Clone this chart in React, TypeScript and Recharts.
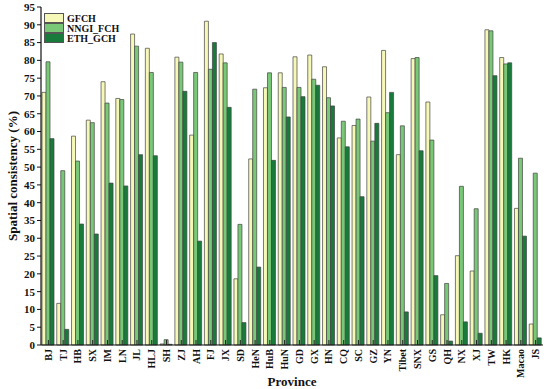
import React from 'react';
import { BarChart, Bar, XAxis, YAxis, Legend } from 'recharts';

const provinces = [
  'BJ', 'TJ', 'HB', 'SX', 'IM', 'LN', 'JL', 'HLJ', 'SH', 'ZJ', 'AH', 'FJ',
  'JX', 'SD', 'HeN', 'HuB', 'HuN', 'GD', 'GX', 'HN', 'CQ', 'SC', 'GZ', 'YN',
  'Tibet', 'SNX', 'GS', 'QH', 'NX', 'XJ', 'TW', 'HK', 'Macao', 'JS',
];

const gfch = [
  71, 11.7, 58.7, 63.2, 74, 69.3, 87.4, 83.4, 0.3, 80.9, 59, 91,
  81.8, 18.6, 52.3, 72.3, 76.5, 81, 81.5, 78.2, 58.2, 61.7, 69.7, 82.8,
  53.5, 80.5, 68.3, 8.5, 25.1, 20.8, 88.6, 80.8, 38.4, 5.9,
];

const nngiFch = [
  79.6, 49, 51.7, 62.5, 68, 69, 84, 76.6, 1.5, 79.5, 76.6, 77.5,
  79.3, 33.9, 71.9, 76.5, 72.4, 72.4, 74.7, 69.5, 62.9, 63.5, 57.3, 65.3,
  61.6, 80.8, 57.6, 17.3, 44.6, 38.3, 88.3, 79, 52.5, 48.3,
];

const ethGch = [
  58, 4.4, 34, 31.2, 45.5, 44.7, 53.5, 53.2, 0.2, 71.3, 29.2, 85,
  66.8, 6.3, 21.9, 51.9, 64.1, 69.8, 73, 67.2, 55.7, 41.7, 62.3, 71,
  9.3, 54.6, 19.5, 1.1, 6.5, 3.3, 75.7, 79.3, 30.6, 2,
];

const yTicks = [0, 5, 10, 15, 20, 25, 30, 35, 40, 45, 50, 55, 60, 65, 70, 75, 80, 85, 90, 95];

const series = [
  { key: 'GFCH', color: '#f6f8b8' },
  { key: 'NNGI_FCH', color: '#79c878' },
  { key: 'ETH_GCH', color: '#197b3b' },
];

const data = provinces.map((name, i) => ({
  name,
  GFCH: gfch[i],
  NNGI_FCH: nngiFch[i],
  ETH_GCH: ethGch[i],
}));

const FONT = '"Liberation Serif", "Times New Roman", serif';

// x labels are rotated, plus a small tick pointing up into the plot
const renderProvinceTick = (props: any) => {
  const { x, y, payload } = props;
  const ty = y + 4;
  return (
    <g key={`tick-${payload.value}`}>
      <line x1={x} x2={x} y1={y - 5} y2={y} stroke="#222" strokeWidth={1} />
      <g transform={`translate(${x}, ${ty}) rotate(-90)`}>
        <text
          x={0}
          y={0}
          textAnchor="end"
          dy="0.35em"
          fontFamily={FONT}
          fontWeight="bold"
          fontSize={10}
          fill="#111"
        >
          {payload.value}
        </text>
      </g>
    </g>
  );
};

const renderYLabel = (props: any) => {
  const { viewBox } = props;
  const cx = 12;
  const cy = viewBox.y + viewBox.height / 2;
  return (
    <text
      x={cx}
      y={cy}
      transform={`rotate(-90, ${cx}, ${cy})`}
      textAnchor="middle"
      dy="0.35em"
      fontFamily={FONT}
      fontWeight="bold"
      fontSize={13}
      fill="#111"
    >
      Spatial consistency (%)
    </text>
  );
};

const renderLegend = () => (
  <div style={{ fontFamily: FONT, fontWeight: 'bold', fontSize: 10, color: '#111' }}>
    {series.map((s) => (
      <div key={s.key} style={{ display: 'flex', alignItems: 'center', height: 10 }}>
        <span
          style={{
            display: 'inline-block',
            width: 18,
            height: 8,
            background: s.color,
            border: '1px solid #555',
            marginRight: 3,
          }}
        />
        <span>{s.key}</span>
      </div>
    ))}
  </div>
);

export default function App() {
  return (
    <div style={{ position: 'absolute', left: 0, top: 0, background: '#fff' }}>
      <BarChart
        width={550}
        height={389}
        data={data}
        margin={{ top: 7, right: 7, left: 0, bottom: 0 }}
        barCategoryGap={1}
        barGap={0}
      >
        <XAxis
          dataKey="name"
          interval={0}
          tickSize={0}
          tickMargin={0}
          tickLine={false}
          axisLine={{ stroke: '#111', strokeWidth: 1.2 }}
          height={44}
          tick={renderProvinceTick}
          label={{
            value: 'Province',
            position: 'insideBottom',
            offset: 3,
            fontFamily: FONT,
            fontWeight: 'bold',
            fontSize: 13,
            fill: '#111',
          }}
        />
        <XAxis
          xAxisId="top"
          dataKey="name"
          orientation="top"
          height={0}
          tick={false}
          tickLine={false}
          axisLine={{ stroke: '#111', strokeWidth: 1.2 }}
        />
        <YAxis
          domain={[0, 95]}
          ticks={yTicks}
          interval={0}
          width={41}
          tickSize={4}
          tickMargin={2}
          tickLine={{ stroke: '#111' }}
          axisLine={{ stroke: '#111', strokeWidth: 1.2 }}
          tick={{ fontFamily: FONT, fontWeight: 'bold', fontSize: 11, fill: '#111' }}
          label={{ content: renderYLabel }}
        />
        <YAxis
          yAxisId="right"
          orientation="right"
          domain={[0, 95]}
          width={0}
          tick={false}
          tickLine={false}
          axisLine={{ stroke: '#111', strokeWidth: 1.2 }}
        />
        <Legend
          layout="vertical"
          align="center"
          verticalAlign="middle"
          content={renderLegend}
          wrapperStyle={{ left: 44, top: 13, width: 'auto' }}
        />
        {series.map((s) => (
          <Bar
            key={s.key}
            dataKey={s.key}
            fill={s.color}
            stroke="#444"
            strokeWidth={0.7}
            isAnimationActive={false}
          />
        ))}
      </BarChart>
    </div>
  );
}
